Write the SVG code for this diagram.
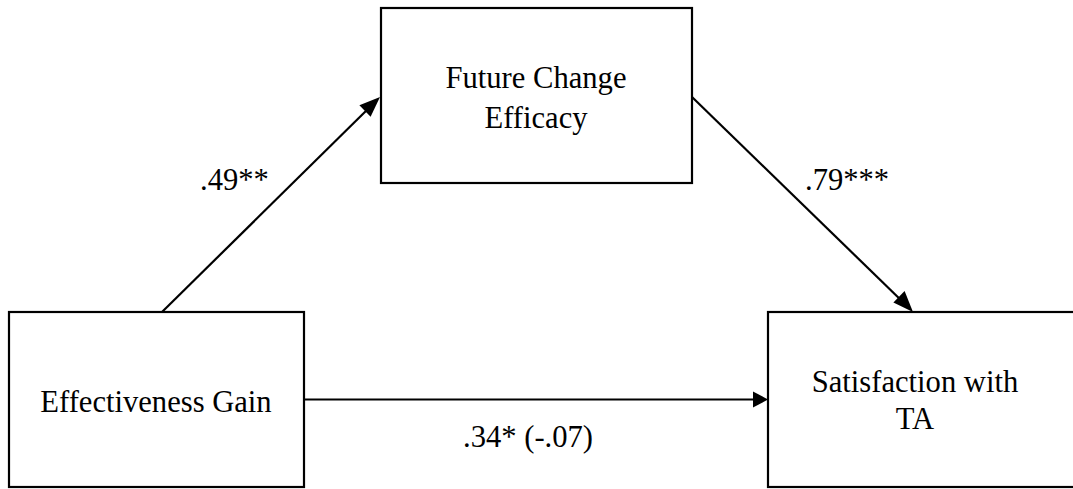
<svg xmlns="http://www.w3.org/2000/svg" width="1073" height="489" viewBox="0 0 1073 489">
<style>
.box{fill:#fff;stroke:#000;stroke-width:2.2}
.lbl{font-family:'Liberation Serif','Times New Roman','DejaVu Serif',serif;font-size:30.6px;fill:#000}
.c{text-anchor:middle}
.con{stroke:#000;stroke-width:2.2;fill:none}
.head{fill:#000}
</style>
<rect width="1073" height="489" fill="#fff"/>
<g id="connectors">
<line class="con" x1="162" y1="312" x2="372" y2="105"/>
<path class="head" d="M380,97 L370.6,116.7 L359.4,105.3 z"/>
<line class="con" x1="692" y1="97" x2="905" y2="304"/>
<path class="head" d="M913,312 L893.4,302.4 L904.6,291.0 z"/>
<line class="con" x1="304" y1="399.5" x2="756" y2="399.5"/>
<path class="head" d="M768,399.5 L753,391.5 L753,407.5 z"/>
<text class="lbl" x="200" y="190">.49**</text>
<text class="lbl" x="805" y="190">.79***</text>
<text class="lbl" x="463" y="447">.34* (-.07)</text>
</g>
<g id="node-fce">
<rect class="box" x="381" y="8" width="311" height="175"/>
<text class="lbl c" x="536" y="88">Future Change</text>
<text class="lbl c" x="536" y="128">Efficacy</text>
</g>
<g id="node-eg">
<rect class="box" x="9" y="312" width="295" height="175"/>
<text class="lbl c" x="156" y="412">Effectiveness Gain</text>
</g>
<g id="node-sat">
<rect class="box" x="768" y="312" width="320" height="175"/>
<text class="lbl c" x="915" y="392">Satisfaction with</text>
<text class="lbl c" x="915" y="429">TA</text>
</g>
</svg>
